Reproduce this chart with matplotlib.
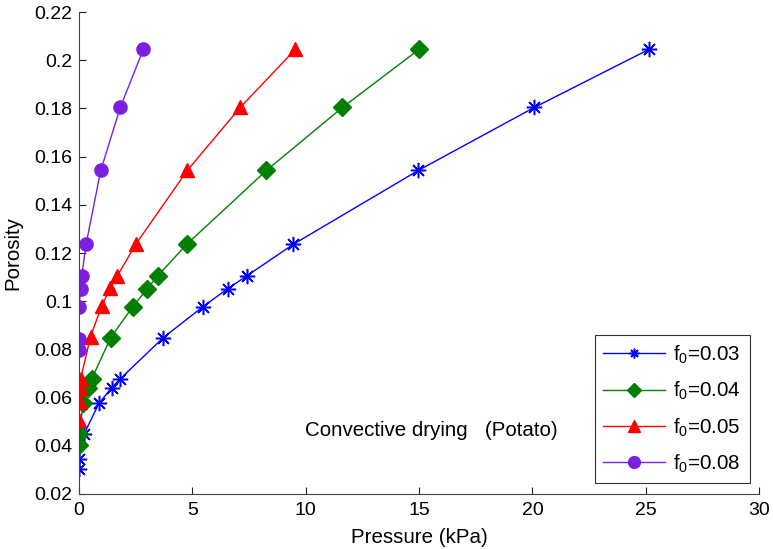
import numpy as np
import matplotlib
matplotlib.use('Agg')
import matplotlib.pyplot as plt

plt.rcParams['font.family'] = ['Liberation Sans', 'DejaVu Sans']
plt.rcParams['mathtext.fontset'] = 'custom'
plt.rcParams['mathtext.rm'] = 'Liberation Sans'

# porosity vs pressure for four initial porosities f0
p_003 = [0, 0, 0.22, 0.88, 1.44, 1.81, 3.72, 5.45, 6.56, 7.40, 9.45, 14.97, 20.08, 25.16]
phi_003 = [0.0302, 0.0347, 0.0448, 0.0576, 0.0641, 0.0677, 0.0849, 0.0976, 0.1052,
           0.1105, 0.1236, 0.1543, 0.1804, 0.2046]

p_004 = [0, 0, 0.19, 0.41, 0.56, 1.40, 2.36, 3.01, 3.47, 4.75, 8.27, 11.62, 15.01]
phi_004 = [0.0403, 0.0448, 0.0576, 0.0641, 0.0677, 0.0849, 0.0976, 0.1052, 0.1105,
           0.1236, 0.1543, 0.1804, 0.2046]

p_005 = [0, 0.04, 0.04, 0.07, 0.51, 1.00, 1.37, 1.69, 2.50, 4.78, 7.11, 9.55]
phi_005 = [0.0507, 0.0580, 0.0641, 0.0677, 0.0853, 0.0980, 0.1053, 0.1105, 0.1236,
           0.1543, 0.1804, 0.2046]

p_008 = [0, 0, 0, 0.07, 0.12, 0.31, 0.96, 1.82, 2.84]
phi_008 = [0.0797, 0.0842, 0.0977, 0.1052, 0.1105, 0.1236, 0.1543, 0.1804, 0.2046]

labels = [r'f$_{\mathregular{0}}$=0.03', r'f$_{\mathregular{0}}$=0.04',
          r'f$_{\mathregular{0}}$=0.05', r'f$_{\mathregular{0}}$=0.08']

fig = plt.figure(figsize=(7.73, 5.49), dpi=100)
ax = fig.add_axes([0.1022, 0.1002, 0.8798, 0.8778])

ax.plot(p_003, phi_003, color='#0000ff', lw=1, marker=(8, 2, 0), ms=11, mew=1.1,
        label=labels[0])
ax.plot(p_004, phi_004, color='#007f00', lw=1, marker='D', ms=9, label=labels[1])
ax.plot(p_005, phi_005, color='#ff0000', lw=1, marker='^', ms=10.5, label=labels[2])
ax.plot(p_008, phi_008, color='#7b1fe0', lw=1, marker='o', ms=9.5, label=labels[3])

ax.set_xlim(0, 30)
ax.set_ylim(0.02, 0.22)
ax.set_xticks([0, 5, 10, 15, 20, 25, 30])
ax.set_xticklabels(['0', '5', '10', '15', '20', '25', '30'])
ax.set_yticks(np.arange(0.02, 0.2201, 0.02))
ax.set_yticklabels(['0.02', '0.04', '0.06', '0.08', '0.1', '0.12', '0.14', '0.16',
                    '0.18', '0.2', '0.22'])
ax.tick_params(direction='in', length=5, width=0.8, labelsize=14, colors='#222222',
               labelcolor='black')
ax.tick_params(axis='y', pad=5)
ax.tick_params(axis='x', pad=6)
ax.spines['top'].set_visible(False)
ax.spines['right'].set_visible(False)
for s in ['left', 'bottom']:
    ax.spines[s].set_color('#444444')
    ax.spines[s].set_linewidth(0.8)

ax.set_xlabel('Pressure (kPa)', fontsize=14.8, labelpad=6)
ax.set_ylabel('Porosity', fontsize=14.8, labelpad=8)

ax.text(9.97, 0.0465, 'Convective drying   (Potato)', fontsize=14.8, va='center')

leg = ax.legend(loc='lower right', bbox_to_anchor=(0.986, 0.022), fontsize=14.8,
                frameon=True, fancybox=False, edgecolor='black', handlelength=3.0,
                labelspacing=0.66, borderpad=0.42, handletextpad=0.4,
                borderaxespad=0)
leg.get_frame().set_linewidth(0.8)
for h, s in zip(leg.legend_handles, [7, 7.5, 9, 8.5]):
    h.set_markersize(s)

fig.savefig('out.png', dpi=100)
